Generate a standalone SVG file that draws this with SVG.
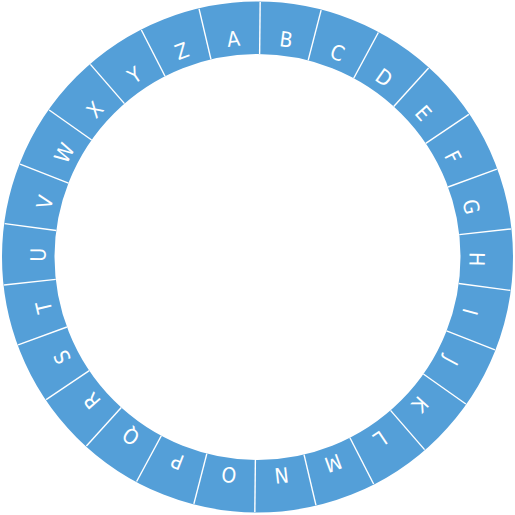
<svg xmlns="http://www.w3.org/2000/svg" width="515" height="515" viewBox="0 0 515 515">
<style>
.ring{fill:none;stroke:#549FD8;stroke-width:52.5}
.sep{stroke:#ffffff;stroke-width:1.4}
.lbl{fill:#ffffff;font-family:"Liberation Sans Narrow","DejaVu Sans Condensed","Liberation Sans",sans-serif;font-size:21px;text-anchor:middle}
</style>
<defs>
<line id="s" class="sep" x1="257.5" y1="2" x2="257.5" y2="54"/>
</defs>
<rect width="515" height="515" fill="#ffffff"/>
<circle class="ring" cx="257.5" cy="257" r="229.25"/>
<g id="connectors">
<use href="#s" transform="rotate(0.6 257.5 257)"/>
<use href="#s" transform="rotate(14.45 257.5 257)"/>
<use href="#s" transform="rotate(28.29 257.5 257)"/>
<use href="#s" transform="rotate(42.14 257.5 257)"/>
<use href="#s" transform="rotate(55.98 257.5 257)"/>
<use href="#s" transform="rotate(69.83 257.5 257)"/>
<use href="#s" transform="rotate(83.68 257.5 257)"/>
<use href="#s" transform="rotate(97.52 257.5 257)"/>
<use href="#s" transform="rotate(111.37 257.5 257)"/>
<use href="#s" transform="rotate(125.21 257.5 257)"/>
<use href="#s" transform="rotate(139.06 257.5 257)"/>
<use href="#s" transform="rotate(152.91 257.5 257)"/>
<use href="#s" transform="rotate(166.75 257.5 257)"/>
<use href="#s" transform="rotate(180.6 257.5 257)"/>
<use href="#s" transform="rotate(194.45 257.5 257)"/>
<use href="#s" transform="rotate(208.29 257.5 257)"/>
<use href="#s" transform="rotate(222.14 257.5 257)"/>
<use href="#s" transform="rotate(235.98 257.5 257)"/>
<use href="#s" transform="rotate(249.83 257.5 257)"/>
<use href="#s" transform="rotate(263.68 257.5 257)"/>
<use href="#s" transform="rotate(277.52 257.5 257)"/>
<use href="#s" transform="rotate(291.37 257.5 257)"/>
<use href="#s" transform="rotate(305.21 257.5 257)"/>
<use href="#s" transform="rotate(319.06 257.5 257)"/>
<use href="#s" transform="rotate(332.91 257.5 257)"/>
<use href="#s" transform="rotate(346.75 257.5 257)"/>
</g>
<g id="A"><text class="lbl" x="257.5" y="45" transform="rotate(-6.32 257.5 257)">A</text></g>
<g id="B"><text class="lbl" x="257.5" y="45" transform="rotate(7.52 257.5 257)">B</text></g>
<g id="C"><text class="lbl" x="257.5" y="45" transform="rotate(21.37 257.5 257)">C</text></g>
<g id="D"><text class="lbl" x="257.5" y="45" transform="rotate(35.21 257.5 257)">D</text></g>
<g id="E"><text class="lbl" x="257.5" y="45" transform="rotate(49.06 257.5 257)">E</text></g>
<g id="F"><text class="lbl" x="257.5" y="45" transform="rotate(62.91 257.5 257)">F</text></g>
<g id="G"><text class="lbl" x="257.5" y="45" transform="rotate(76.75 257.5 257)">G</text></g>
<g id="H"><text class="lbl" x="257.5" y="45" transform="rotate(90.6 257.5 257)">H</text></g>
<g id="I"><text class="lbl" x="257.5" y="45" transform="rotate(104.45 257.5 257)">I</text></g>
<g id="J"><text class="lbl" x="257.5" y="45" transform="rotate(118.29 257.5 257)">J</text></g>
<g id="K"><text class="lbl" x="257.5" y="45" transform="rotate(132.14 257.5 257)">K</text></g>
<g id="L"><text class="lbl" x="257.5" y="45" transform="rotate(145.98 257.5 257)">L</text></g>
<g id="M"><text class="lbl" x="257.5" y="45" transform="rotate(159.83 257.5 257)">M</text></g>
<g id="N"><text class="lbl" x="257.5" y="45" transform="rotate(173.68 257.5 257)">N</text></g>
<g id="O"><text class="lbl" x="257.5" y="45" transform="rotate(187.52 257.5 257)">O</text></g>
<g id="P"><text class="lbl" x="257.5" y="45" transform="rotate(201.37 257.5 257)">P</text></g>
<g id="Q"><text class="lbl" x="257.5" y="45" transform="rotate(215.21 257.5 257)">Q</text></g>
<g id="R"><text class="lbl" x="257.5" y="45" transform="rotate(229.06 257.5 257)">R</text></g>
<g id="S"><text class="lbl" x="257.5" y="45" transform="rotate(242.91 257.5 257)">S</text></g>
<g id="T"><text class="lbl" x="257.5" y="45" transform="rotate(256.75 257.5 257)">T</text></g>
<g id="U"><text class="lbl" x="257.5" y="45" transform="rotate(270.6 257.5 257)">U</text></g>
<g id="V"><text class="lbl" x="257.5" y="45" transform="rotate(284.45 257.5 257)">V</text></g>
<g id="W"><text class="lbl" x="257.5" y="45" transform="rotate(298.29 257.5 257)">W</text></g>
<g id="X"><text class="lbl" x="257.5" y="45" transform="rotate(312.14 257.5 257)">X</text></g>
<g id="Y"><text class="lbl" x="257.5" y="45" transform="rotate(325.98 257.5 257)">Y</text></g>
<g id="Z"><text class="lbl" x="257.5" y="45" transform="rotate(339.83 257.5 257)">Z</text></g>
</svg>
